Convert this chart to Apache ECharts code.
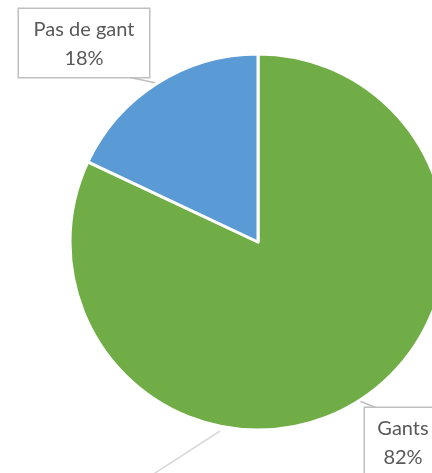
<!DOCTYPE html>
<html>
<head>
<meta charset="utf-8">
<script src="https://cdn.jsdelivr.net/npm/echarts@6/dist/echarts.min.js"></script>
<style>
  html, body { margin: 0; padding: 0; background: #fff; }
  #chart { width: 432px; height: 473px; }
</style>
</head>
<body>
<div id="chart"></div>
<script>
var categories = ['Gants', 'Pas de gant'];
var values = [82, 18];
var colors = ['#70AD47', '#5B9BD5'];

// cadres des étiquettes : centre x, haut y, largeur du texte
var labelSpots = [
    { cx: 403, top: 408, w: 56 },
    { cx: 84, top: 9, w: 110 }
];
var padTop = 6, padBottom = 4, padSide = 10, lineH = 29;

var chart = echarts.init(document.getElementById('chart'));

var option = {
    backgroundColor: '#fff',
    animation: false,
    series: [{
        type: 'pie',
        center: [258, 242],
        radius: 188,
        startAngle: 90,
        clockwise: true,
        data: categories.map(function (name, i) {
            return {
                name: name,
                value: values[i],
                itemStyle: { color: colors[i] },
                label: { width: labelSpots[i].w }
            };
        }),
        itemStyle: {
            borderColor: '#fff',
            borderWidth: 3
        },
        label: {
            show: true,
            formatter: '{b}\n{d}%',
            fontFamily: 'Lato',
            fontSize: 20,
            color: '#595959',
            lineHeight: lineH,
            align: 'center',
            backgroundColor: '#fff',
            borderColor: '#BFBFBF',
            borderWidth: 1.5,
            padding: [padTop, padSide, padBottom, padSide]
        },
        labelLine: {
            show: true,
            length: 10,
            length2: 10,
            lineStyle: { color: '#BFBFBF', width: 1.5 }
        },
        labelLayout: function (params) {
            var s = labelSpots[params.dataIndex];
            var anchor = params.labelLinePoints ? params.labelLinePoints[0] : null;
            var boxH = padTop + padBottom + lineH * 2;
            var left = s.cx - s.w / 2 - padSide;
            var right = s.cx + s.w / 2 + padSide;
            var end;
            if (params.dataIndex === 1) {
                end = [[right - 21, s.top + boxH], [left + 78, s.top + boxH]];
            } else {
                end = [[left + 12, s.top]];
            }
            var out = {
                x: s.cx,
                y: s.top,
                align: 'center',
                verticalAlign: 'top'
            };
            if (anchor) {
                out.labelLinePoints = [anchor].concat(end);
            }
            return out;
        }
    }],
    graphic: [{
        type: 'line',
        shape: { x1: 220, y1: 431, x2: 152, y2: 475 },
        style: { stroke: '#D9D9D9', lineWidth: 1.5 }
    }]
};

chart.setOption(option);
</script>
</body>
</html>
